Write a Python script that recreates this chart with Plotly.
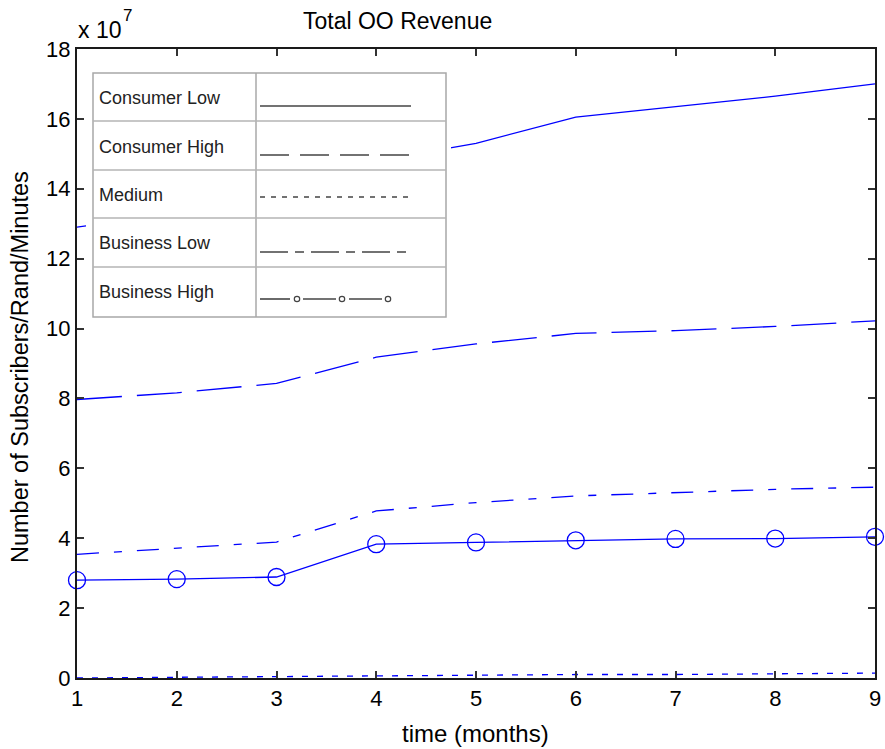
import plotly.graph_objects as go

# Monthly totals (units of 1e7)
months = [1, 2, 3, 4, 5, 6, 7, 8, 9]
consumer_low = [12.9, 13.3, 13.7, 14.8, 15.3, 16.05, 16.35, 16.65, 17.0]
consumer_high = [7.97, 8.16, 8.43, 9.18, 9.56, 9.86, 9.94, 10.06, 10.22]
medium = [0.0, 0.01, 0.04, 0.06, 0.09, 0.10, 0.10, 0.11, 0.14]
business_low = [3.54, 3.72, 3.89, 4.78, 5.02, 5.21, 5.31, 5.40, 5.46]
business_high = [2.80, 2.83, 2.89, 3.83, 3.88, 3.94, 3.98, 3.99, 4.04]

y_ticks = [0, 2, 4, 6, 8, 10, 12, 14, 16, 18]
legend_labels = ["Consumer Low", "Consumer High", "Medium", "Business Low", "Business High"]

SCALE = 1e7
BLUE = "#0000ff"
FONT = "Liberation Sans, Arial, sans-serif"

W, H = 885, 749
L, R, T, B = 77, 10, 49, 71
PW, PH = W - L - R, H - T - B


def px(x):
    return (x - L) / PW


def py(y):
    return (H - B - y) / PH


fig = go.Figure()

series = [
    (consumer_low, "solid", None),
    (consumer_high, "45px,15px", None),
    (medium, "6px,9px", None),
    (business_low, "22px,15px,8px,15px", None),
    (business_high, "solid", "circle-open"),
]
for (vals, dash, sym), name in zip(series, legend_labels):
    fig.add_trace(go.Scatter(
        x=months, y=[v * SCALE for v in vals], name=name,
        mode="lines+markers" if sym else "lines",
        line=dict(color=BLUE, width=1.3, dash=dash),
        marker=dict(symbol=sym, size=17, color=BLUE, line=dict(width=1.3, color=BLUE)) if sym else None,
        cliponaxis=False, showlegend=False,
    ))

shapes = []
# table-style key
shapes.append(dict(type="rect", xref="paper", yref="paper", x0=px(86), x1=px(451), y0=py(322), y1=py(62),
                   fillcolor="white", line=dict(width=0), layer="above"))
shapes.append(dict(type="rect", xref="paper", yref="paper", x0=px(93), x1=px(446), y0=py(317), y1=py(73),
                   fillcolor="white", line=dict(color="#a8a8a8", width=1.5), layer="above"))
shapes.append(dict(type="line", xref="paper", yref="paper", x0=px(256), x1=px(256), y0=py(317), y1=py(73),
                   line=dict(color="#a8a8a8", width=1.5), layer="above"))
for yy in [121, 170, 218, 267]:
    shapes.append(dict(type="line", xref="paper", yref="paper", x0=px(93), x1=px(446), y0=py(yy), y1=py(yy),
                       line=dict(color="#b4b4b4", width=1.5), layer="above"))

text_y = [98, 147, 195, 243, 292]
sample_y = [106, 155, 197, 252, 299]
sample_dash = ["solid", "29px,11px", "5px,6px", "28px,7px,9px,7px"]
for sy, d in zip(sample_y[:4], sample_dash):
    shapes.append(dict(type="line", xref="paper", yref="paper", x0=px(260), x1=px(411), y0=py(sy), y1=py(sy),
                       line=dict(color="#444444", width=1.6, dash=d), layer="above"))
sy = sample_y[4]
for a, b in [(260, 290), (303, 336), (349, 382)]:
    shapes.append(dict(type="line", xref="paper", yref="paper", x0=px(a), x1=px(b), y0=py(sy), y1=py(sy),
                       line=dict(color="#444444", width=1.6), layer="above"))
for cx in [297, 342, 388]:
    shapes.append(dict(type="circle", xref="paper", yref="paper", x0=px(cx - 2.7), x1=px(cx + 2.7),
                       y0=py(sy + 2.7), y1=py(sy - 2.7), line=dict(color="#444444", width=1.2), layer="above"))

annotations = []
for ty, lab in zip(text_y, legend_labels):
    annotations.append(dict(text=lab, xref="paper", yref="paper", x=px(97), y=py(ty), xanchor="left",
                            yanchor="middle", showarrow=False, font=dict(family=FONT, size=18, color="#222222")))

annotations += [
    dict(text="Total OO Revenue", xref="paper", yref="paper", x=px(397), y=py(21), xanchor="center",
         yanchor="middle", showarrow=False, font=dict(family=FONT, size=23, color="black")),
    dict(text="x 10", xref="paper", yref="paper", x=px(76), y=py(30), xanchor="left",
         yanchor="middle", showarrow=False, font=dict(family=FONT, size=23, color="black")),
    dict(text="7", xref="paper", yref="paper", x=px(121), y=py(15), xanchor="left",
         yanchor="middle", showarrow=False, font=dict(family=FONT, size=17, color="black")),
    dict(text="time (months)", xref="paper", yref="paper", x=px(475), y=py(733), xanchor="center",
         yanchor="middle", showarrow=False, font=dict(family=FONT, size=24, color="black")),
    dict(text="Number of Subscribers/Rand/Minutes", xref="paper", yref="paper", x=px(20), y=py(367),
         xanchor="center", yanchor="middle", textangle=-90, showarrow=False,
         font=dict(family=FONT, size=23.5, color="black")),
]

axis_common = dict(showline=True, mirror="ticks", linecolor="#1a1a1a", linewidth=2, ticks="inside",
                   ticklen=7, tickwidth=1.5, tickcolor="#333333", showgrid=False, zeroline=False,
                   automargin=False, tickfont=dict(family=FONT, size=22, color="black"))

fig.update_layout(
    width=W, height=H, margin=dict(l=L, r=R, t=T, b=B, autoexpand=False),
    paper_bgcolor="white", plot_bgcolor="white",
    xaxis=dict(range=[1, 9], tickvals=months, ticktext=[str(m) for m in months], **axis_common),
    yaxis=dict(range=[0, 18 * SCALE], tickvals=[v * SCALE for v in y_ticks],
               ticktext=[str(v) for v in y_ticks], **axis_common),
    shapes=shapes, annotations=annotations, showlegend=False,
)

fig.write_html("out.html")
